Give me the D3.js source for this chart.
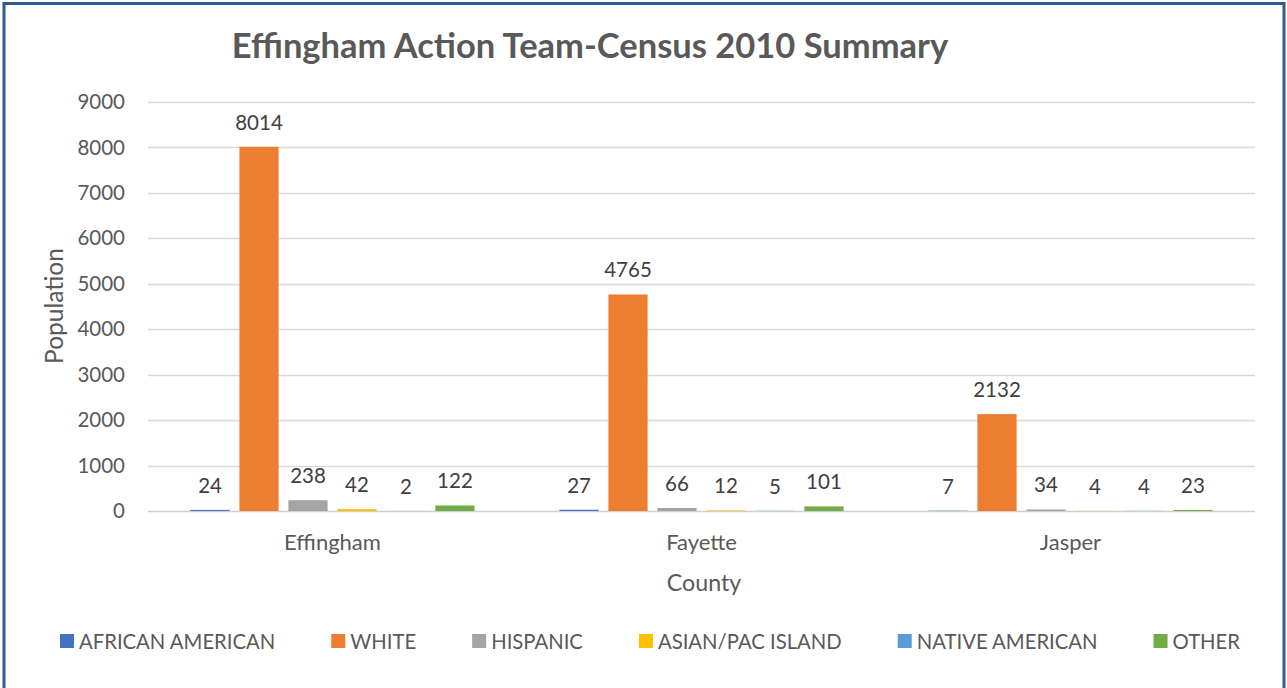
<!DOCTYPE html>
<html>
<head>
<meta charset="utf-8">
<script src="https://cdn.jsdelivr.net/npm/d3@7"></script>
<style>
  body { margin: 0; background: #fff; }
  text { font-family: Lato, "Open Sans", sans-serif; }
</style>
</head>
<body>
<script>
const W = 1287, H = 688;
const counties = ["Effingham", "Fayette", "Jasper"];
const groups = ["AFRICAN AMERICAN", "WHITE", "HISPANIC", "ASIAN/PAC ISLAND", "NATIVE AMERICAN", "OTHER"];
const colors = ["#4472C4", "#ED7D31", "#A5A5A5", "#FFC000", "#5B9BD5", "#70AD47"];
const africanAmerican = [24, 27, 7];
const white = [8014, 4765, 2132];
const hispanic = [238, 66, 34];
const asianPac = [42, 12, 4];
const nativeAmerican = [2, 5, 4];
const other = [122, 101, 23];
const yTicks = [0, 1000, 2000, 3000, 4000, 5000, 6000, 7000, 8000, 9000];

const series = [africanAmerican, white, hispanic, asianPac, nativeAmerican, other];

const svg = d3.select("body").append("svg").attr("width", W).attr("height", H);

svg.append("rect")
  .attr("x", 4).attr("y", 3.5).attr("width", 1280).attr("height", 700)
  .attr("fill", "#fff").attr("stroke", "#2F5E8C").attr("stroke-width", 3);

const plotL = 148, plotR = 1255, plotT = 102, plotB = 511;

let y = d3.scaleLinear().domain([0, 9000]).range([plotB, plotT]);
let x0 = d3.scaleBand().domain(counties).range([plotL, plotR]).paddingInner(0.23).paddingOuter(0.115);
let x1 = d3.scaleBand().domain(groups).range([0, x0.bandwidth()]).paddingInner(0.2);

// grid lines
svg.append("g")
  .selectAll("line")
  .data(yTicks)
  .enter()
  .append("line")
  .attr("x1", plotL).attr("x2", plotR)
  .attr("y1", d => Math.round(y(d)) + 0.5).attr("y2", d => Math.round(y(d)) + 0.5)
  .attr("stroke", d => d === 0 ? "#D0D0D0" : "#D9D9D9")
  .attr("stroke-width", 1.5);

// y axis labels
let yAxis = d3.axisLeft(y).tickValues(yTicks).tickFormat(d3.format("d")).tickSize(0).tickPadding(23);
let yg = svg.append("g").attr("transform", `translate(${plotL},0)`).call(yAxis);
yg.select(".domain").remove();
yg.selectAll("text").attr("font-size", 20.5).attr("fill", "#595959").style("font-family", "Lato");

// bars
let gs = svg.append("g")
  .selectAll("g")
  .data(counties)
  .enter()
  .append("g")
  .attr("transform", d => `translate(${x0(d)},0)`);

gs.selectAll("rect")
  .data((c, ci) => groups.map((g, gi) => ({ g: g, v: series[gi][ci], col: colors[gi] })))
  .enter()
  .append("rect")
  .attr("x", d => x1(d.g))
  .attr("width", x1.bandwidth())
  .attr("y", d => y(d.v))
  .attr("height", d => plotB - y(d.v))
  .attr("fill", d => d.col);

gs.selectAll("text")
  .data((c, ci) => groups.map((g, gi) => ({ g: g, v: series[gi][ci] })))
  .enter()
  .append("text")
  .attr("x", d => x1(d.g) + x1.bandwidth() / 2)
  .attr("y", d => y(d.v) - 17)
  .attr("text-anchor", "middle")
  .attr("font-size", 20.5)
  .attr("fill", "#404040")
  .text(d => d.v);

// x axis labels
let xAxis = d3.axisBottom(x0).tickSize(0).tickPadding(23);
let xg = svg.append("g").attr("transform", `translate(0,${plotB})`).call(xAxis);
xg.select(".domain").remove();
xg.selectAll("text").attr("font-size", 22).attr("fill", "#595959").style("font-family", "Lato");

// title
svg.append("text")
  .attr("x", 590).attr("y", 58)
  .attr("text-anchor", "middle")
  .attr("font-size", 34.5)
  .attr("font-weight", "bold")
  .attr("fill", "#595959")
  .text("Effingham Action Team-Census 2010 Summary");

svg.append("text")
  .attr("x", 704).attr("y", 591)
  .attr("text-anchor", "middle")
  .attr("font-size", 23.2)
  .attr("fill", "#595959")
  .text("County");

svg.append("text")
  .attr("transform", "translate(63,306) rotate(-90)")
  .attr("text-anchor", "middle")
  .attr("font-size", 24.5)
  .attr("fill", "#595959")
  .text("Population");

// legend
let legend = svg.append("g");
let items = legend.selectAll("g")
  .data(groups)
  .enter()
  .append("g");
items.append("rect")
  .attr("width", 14).attr("height", 14).attr("y", 634)
  .attr("fill", (d, i) => colors[i]);
items.append("text")
  .attr("x", 19).attr("y", 648.5)
  .attr("font-size", 20.3)
  .attr("fill", "#595959")
  .text(d => d);

let xs = 0, widths = [];
items.each(function () {
  let w = d3.select(this).select("text").node().getComputedTextLength() + 19;
  widths.push(w);
});
let total = d3.sum(widths) + 56 * (groups.length - 1);
xs = 650 - total / 2;
items.attr("transform", (d, i) => {
  let t = `translate(${xs},0)`;
  xs += widths[i] + 56;
  return t;
});
</script>
</body>
</html>
